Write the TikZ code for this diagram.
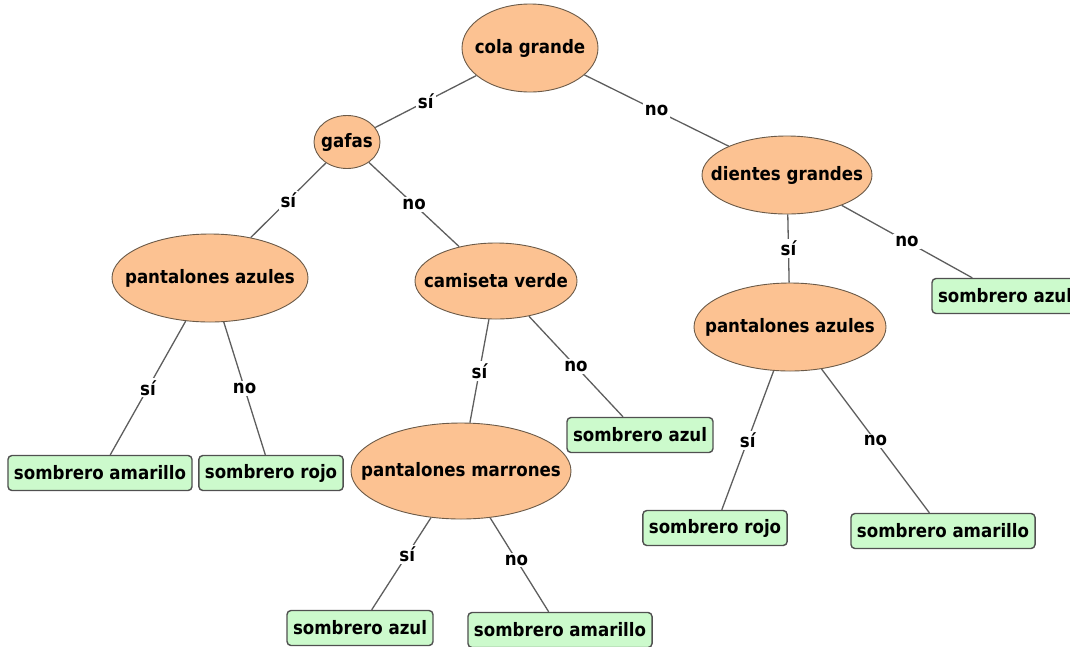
\documentclass[tikz,border=0pt]{standalone}
\usepackage{fontspec}
\setsansfont{DejaVu Sans Condensed}
\usetikzlibrary{shapes.geometric}
\definecolor{peach}{HTML}{FCC292}
\definecolor{qline}{HTML}{6B5A48}
\definecolor{leafgreen}{HTML}{CCFACC}
\definecolor{leafline}{HTML}{505050}
\definecolor{edgegray}{HTML}{5E5E5E}

\begin{document}
\begin{tikzpicture}[x=1pt,y=-1pt,font=\sffamily\bfseries\fontsize{18.5}{20}\selectfont,
 q/.style={ellipse,draw=qline,line width=0.9pt,fill=peach,inner xsep=-40pt,inner ysep=-14pt},
 leaf/.style={draw=leafline,line width=1.4pt,rounded corners=4pt,fill=leafgreen,minimum height=35pt,inner xsep=6pt},
 edge/.style={draw=edgegray,line width=1.3pt},
 lbl/.style={fill=white,inner sep=2pt}]
\useasboundingbox (0,0) rectangle (1070,646);
% questions
\node[q,minimum width=136pt,minimum height=88pt] (cola) at (530,48) {cola grande};
\node[q,minimum width=66pt,minimum height=53pt] (gafas) at (347,142) {gafas};
\node[q,minimum width=170pt,minimum height=78pt] (dientes) at (787,175) {dientes grandes};
\node[q,minimum width=196pt,minimum height=88pt] (pazul) at (210,278) {pantalones azules};
\node[q,minimum width=162pt,minimum height=76pt] (camiseta) at (496,281) {camiseta verde};
\node[q,minimum width=192pt,minimum height=88pt] (pazulb) at (790,327) {pantalones azules};
\node[q,minimum width=220pt,minimum height=96pt] (pmarron) at (461,471) {pantalones marrones};
% answers
\node[leaf] (amarilloa) at (100,473) {sombrero amarillo};
\node[leaf] (rojoa) at (271,473) {sombrero rojo};
\node[leaf] (azula) at (640,435) {sombrero azul};
\node[leaf] (azulb) at (1005,296) {sombrero azul};
\node[leaf] (rojob) at (715,528) {sombrero rojo};
\node[leaf] (amarillob) at (943,531) {sombrero amarillo};
\node[leaf] (azulc) at (360,628) {sombrero azul};
\node[leaf] (amarilloc) at (560,630) {sombrero amarillo};
% branches
\draw[edge] (cola) -- node[lbl]{sí} (gafas);
\draw[edge] (cola) -- node[lbl]{no} (dientes);
\draw[edge] (gafas) -- node[lbl]{sí} (pazul);
\draw[edge] (gafas) -- node[lbl]{no} (camiseta);
\draw[edge] (dientes) -- node[lbl]{sí} (pazulb);
\draw[edge] (dientes) -- node[lbl]{no} (azulb);
\draw[edge] (pazul) -- node[lbl]{sí} (amarilloa);
\draw[edge] (pazul) -- node[lbl]{no} (rojoa);
\draw[edge] (camiseta) -- node[lbl]{sí} (pmarron);
\draw[edge] (camiseta) -- node[lbl]{no} (azula);
\draw[edge] (pazulb) -- node[lbl]{sí} (rojob);
\draw[edge] (pazulb) -- node[lbl]{no} (amarillob);
\draw[edge] (pmarron) -- node[lbl,pos=0.4]{sí} (azulc);
\draw[edge] (pmarron) -- node[lbl,pos=0.45]{no} (amarilloc);
\end{tikzpicture}
\end{document}
